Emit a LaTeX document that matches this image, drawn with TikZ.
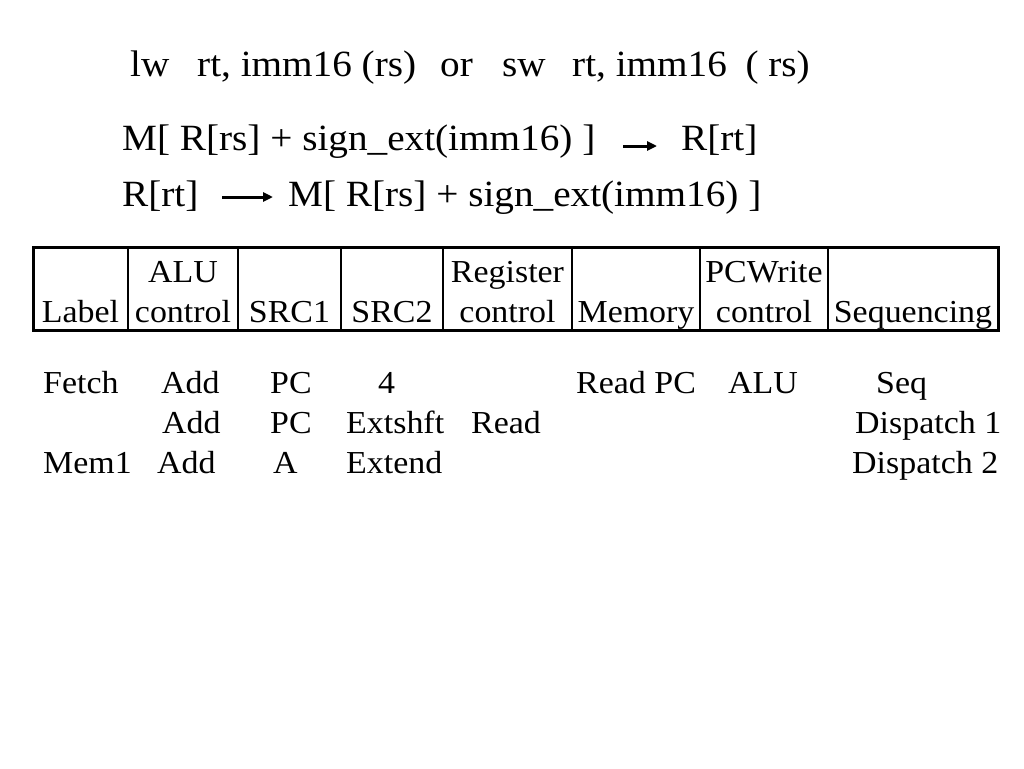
\documentclass[tikz,border=0pt]{standalone}
\usepackage{fontspec}
\setmainfont{Liberation Serif}[FakeStretch=1.06]
\usetikzlibrary{arrows.meta}
\begin{document}
\begin{tikzpicture}[x=1pt,y=-1pt,
  big/.style={anchor=base west,inner sep=0pt,font=\fontsize{37}{41}\selectfont},
  small/.style={anchor=base west,inner sep=0pt,font=\fontsize{32}{36}\selectfont},
  head/.style={anchor=base,inner sep=0pt,font=\fontsize{32}{36}\selectfont},
  arr/.style={line width=3pt,-{Triangle[length=10pt,width=9pt]}},
  outer/.style={line width=3pt},
  inner/.style={line width=2pt}]
\useasboundingbox (0,0) rectangle (1024,768);
% title
\node[big] (t1) at (130,77) {lw};
\node[big] (t2) at (197,77) {rt, imm16 (rs)};
\node[big] (t3) at (440,77) {or};
\node[big] (t4) at (502,77) {sw};
\node[big] (t5) at (572,77) {rt, imm16};
\node[big,anchor=base east] (t6) at (810,77) {( rs)};
% formulas
\node[big] (f1) at (122,150) {M[ R[rs] + sign\_ext(imm16) ]};
\node[big] (f2) at (681,150) {R[rt]};
\coordinate (a1s) at (623,146);
\coordinate (a1e) at (657,146);
\draw[arr] (a1s) -- (a1e);
\node[big] (g1) at (122,206) {R[rt]};
\node[big] (g2) at (288,206) {M[ R[rs] + sign\_ext(imm16) ]};
\coordinate (a2s) at (222,197);
\coordinate (a2e) at (273,197);
\draw[arr] (a2s) -- (a2e);
% table
\foreach \x in {128,238,341,443,572,700,828}{\draw[inner] (\x,247) -- (\x,330);}
\draw[outer] (33,247) rectangle (998,330);
\node[head] (h1) at (183,282) {ALU};
\node[head] (h2) at (507.5,282) {Register};
\node[head] (h3) at (764,282) {PCWrite};
\node[head] (c1) at (80.5,322) {Label};
\node[head] (c2) at (183,322) {control};
\node[head] (c3) at (289.5,322) {SRC1};
\node[head] (c4) at (392,322) {SRC2};
\node[head] (c5) at (507.5,322) {control};
\node[head] (c6) at (636,322) {Memory};
\node[head] (c7) at (764,322) {control};
\node[head] (c8) at (913,322) {Sequencing};
% rows
\node[small] (r1a) at (43,393) {Fetch};
\node[small] (r1b) at (161,393) {Add};
\node[small] (r1c) at (270,393) {PC};
\node[small] (r1d) at (378,393) {4};
\node[small] (r1e) at (576,393) {Read PC};
\node[small] (r1f) at (728,393) {ALU};
\node[small] (r1g) at (876,393) {Seq};
\node[small] (r2b) at (162,433) {Add};
\node[small] (r2c) at (270,433) {PC};
\node[small] (r2d) at (346,433) {Extshft};
\node[small] (r2e) at (471,433) {Read};
\node[small] (r2g) at (855,433) {Dispatch 1};
\node[small] (r3a) at (43,473) {Mem1};
\node[small] (r3b) at (157,473) {Add};
\node[small] (r3c) at (273,473) {A};
\node[small] (r3d) at (346,473) {Extend};
\node[small] (r3g) at (852,473) {Dispatch 2};
\end{tikzpicture}
\end{document}
